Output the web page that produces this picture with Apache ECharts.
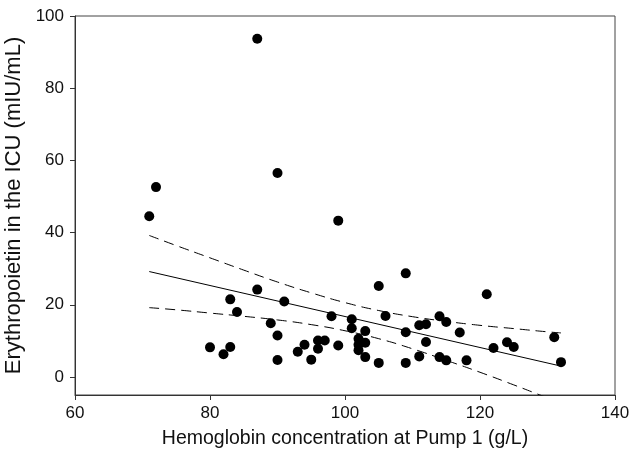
<!DOCTYPE html>
<html>
<head>
<meta charset="utf-8">
<script src="https://cdn.jsdelivr.net/npm/echarts@6/dist/echarts.min.js"></script>
<style>html,body{margin:0;padding:0;background:#fff;}#c{width:632px;height:452px;}</style>
</head>
<body>
<div id="c"></div>
<script>
// Hemoglobin (g/L) and Erythropoietin (mIU/mL)
const hb = [71,72,80,82,83,83,84,87,87,89,90,90,90,91,93,94,95,96,96,97,98,99,99,101,101,102,102,102,103,103,103,105,105,106,109,109,109,111,111,112,112,114,114,115,115,117,118,121,122,124,125,131,132];
const epo = [44.5,52.6,8.2,6.3,8.3,21.5,18.0,93.7,24.2,14.9,56.5,11.5,4.7,20.9,7.0,8.9,4.8,10.1,7.8,10.1,16.8,43.3,8.7,16.0,13.5,10.6,8.9,7.4,12.7,9.5,5.5,25.2,3.9,16.9,28.7,12.4,3.9,14.3,5.7,14.6,9.7,16.8,5.5,15.2,4.6,12.3,4.6,22.9,8.0,9.6,8.3,11.0,4.1];

// Regression line endpoints
const fitX = [71, 132];
const fitY = [29.2, 3.0];

// 95% confidence band
const bandX = [71,75,80,85,90,95,100,105,110,115,120,125,130,132];
const bandUpper = [39.2,36.4,33.0,29.6,26.3,23.3,20.6,18.4,16.7,15.4,14.3,13.4,12.5,12.2];
const bandLower = [19.2,18.6,17.7,16.8,15.8,14.5,12.8,10.6,7.8,4.6,1.3,-2.2,-5.8,-7.2];

const xTicks = [60,80,100,120,140];
const yTicks = [0,20,40,60,80,100];

const zip = (a,b) => a.map((v,i)=>[v,b[i]]);
const font = 'Arial, "Liberation Sans", sans-serif';

const chart = echarts.init(document.getElementById('c'), null, {renderer:'canvas'});
chart.setOption({
  animation:false,
  backgroundColor:'#fff',
  grid:{left:75,right:17,top:16,bottom:57,outerBoundsMode:'none',containLabel:false,
        show:true,borderColor:'#444',borderWidth:1,backgroundColor:'transparent'},
  xAxis:{
    type:'value',min:xTicks[0],max:xTicks[xTicks.length-1],interval:20,
    name:'Hemoglobin concentration at Pump 1 (g/L)',nameLocation:'middle',nameGap:34,
    nameTextStyle:{fontFamily:font,fontSize:19.5,color:'#111'},
    axisLine:{show:true,onZero:false,lineStyle:{color:'#333',width:1}},
    axisTick:{show:true,length:5,lineStyle:{color:'#333'}},
    axisLabel:{fontFamily:font,fontSize:17,color:'#111',margin:10},
    splitLine:{show:false}
  },
  yAxis:{
    type:'value',min:-5,max:100,
    name:'Erythropoietin in the ICU (mIU/mL)',nameLocation:'middle',nameGap:42,
    nameTextStyle:{fontFamily:font,fontSize:22,color:'#111'},
    axisLine:{show:true,onZero:false,lineStyle:{color:'#333',width:1}},
    axisTick:{show:true,length:5,customValues:yTicks,lineStyle:{color:'#333'}},
    axisLabel:{fontFamily:font,fontSize:17,color:'#111',margin:11,customValues:yTicks},
    splitLine:{show:false}
  },
  series:[
    {type:'line',data:zip(bandX,bandUpper),smooth:true,symbol:'none',clip:true,
     lineStyle:{color:'#000',width:1,type:[10,6]},z:2},
    {type:'line',data:zip(bandX,bandLower),smooth:true,symbol:'none',clip:true,
     lineStyle:{color:'#000',width:1,type:[10,6]},z:2},
    {type:'line',data:zip(fitX,fitY),symbol:'none',
     lineStyle:{color:'#000',width:1},z:2},
    {type:'scatter',data:zip(hb,epo),symbol:'circle',symbolSize:10,
     itemStyle:{color:'#000',opacity:1},z:3}
  ]
});
</script>
</body>
</html>
